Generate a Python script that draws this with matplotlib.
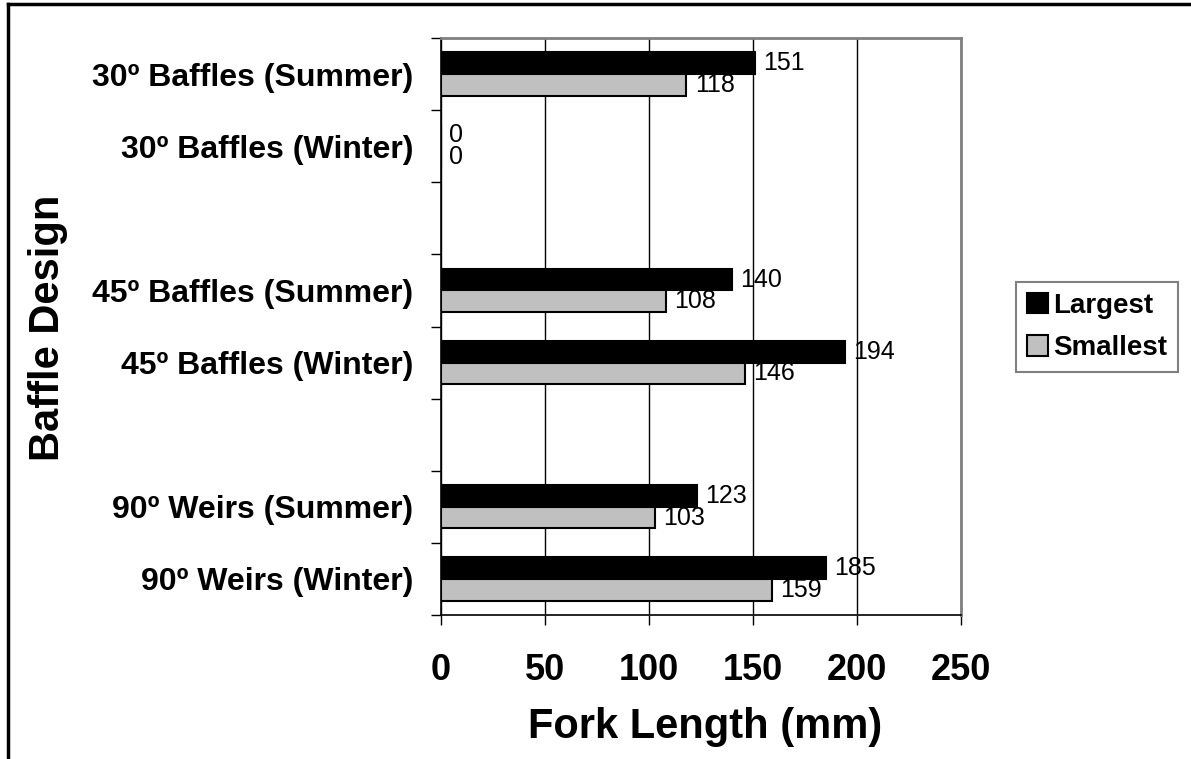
import numpy as np
import matplotlib.pyplot as plt
from matplotlib.lines import Line2D

# rows top to bottom, blank strings are the empty gap rows
categories = ['30º Baffles (Summer)', '30º Baffles (Winter)', '',
              '45º Baffles (Summer)', '45º Baffles (Winter)', '',
              '90º Weirs (Summer)', '90º Weirs (Winter)']
largest = [151, 0, np.nan, 140, 194, np.nan, 123, 185]
smallest = [118, 0, np.nan, 108, 146, np.nan, 103, 159]
xticks = [0, 50, 100, 150, 200, 250]

plt.rcParams['font.family'] = ['Liberation Sans', 'DejaVu Sans']

fig = plt.figure(figsize=(11.91, 7.59), dpi=100)
ax = fig.add_axes([441 / 1191, 1 - 615 / 759, 520 / 1191, 577 / 759])

pos = np.arange(len(categories))
h = 0.3
ok = ~np.isnan(np.array(largest, dtype=float))
ax.barh(pos[ok] - h / 2, np.array(largest)[ok], height=h, color='black',
        edgecolor='black', linewidth=1.5, label='Largest', zorder=3)
ax.barh(pos[ok] + h / 2, np.array(smallest)[ok], height=h, color='#c0c0c0',
        edgecolor='black', linewidth=1.5, label='Smallest', zorder=3)

# value labels at the bar ends
for p, a, b in zip(pos, largest, smallest):
    if np.isnan(a):
        continue
    ax.annotate(f'{a:g}', (a, p - h / 2), xytext=(6, 0), textcoords='offset points',
                va='center', ha='left', fontsize=18)
    ax.annotate(f'{b:g}', (b, p + h / 2), xytext=(6, 0), textcoords='offset points',
                va='center', ha='left', fontsize=18)

ax.set_xlim(0, 250)
ax.set_ylim(len(categories) - 0.5, -0.5)
ax.set_xticks(xticks)
ax.set_xticklabels([str(t) for t in xticks], fontsize=26, fontweight='bold')
ax.tick_params(axis='x', direction='out', length=7, width=1, pad=20)
ax.grid(axis='x', color='black', linewidth=1, zorder=0)

# boundary ticks, labels in the middle of each slot
ax.set_yticks(np.arange(len(categories) + 1) - 0.5)
ax.set_yticklabels([])
ax.set_yticks(pos, minor=True)
ax.set_yticklabels(categories, minor=True, fontsize=23, fontweight='bold')
ax.tick_params(axis='y', which='major', direction='out', length=7, width=1)
ax.tick_params(axis='y', which='minor', length=0, pad=20)

for s in ['left', 'bottom']:
    ax.spines[s].set_color('black')
    ax.spines[s].set_linewidth(1.2)
for s in ['top', 'right']:
    ax.spines[s].set_color('#808080')
    ax.spines[s].set_linewidth(2)

ax.set_xlabel('Fork Length (mm)', fontsize=30, fontweight='bold')
ax.xaxis.label.set_va('center')
ax.xaxis.set_label_coords(0.508, -0.194)
ax.set_ylabel('Baffle Design', fontsize=30, fontweight='bold')
ax.yaxis.label.set_va('center')
ax.yaxis.set_label_coords(-0.756, 0.497)

leg = fig.legend(loc='center', bbox_to_anchor=(1097 / 1191, 1 - 327 / 759),
                 prop={'size': 20, 'weight': 'bold'}, fancybox=False,
                 edgecolor='#606060', handlelength=0.75, handleheight=0.75,
                 handletextpad=0.2, borderpad=0.4, labelspacing=0.6,
                 borderaxespad=0)
leg.get_frame().set_linewidth(1.5)

# outer frame of the picture
fig.add_artist(Line2D([8 / 1191, 8 / 1191], [0, 1 - 4 / 759], color='black',
                      linewidth=2.5, transform=fig.transFigure))
fig.add_artist(Line2D([8 / 1191, 1], [1 - 4 / 759, 1 - 4 / 759], color='black',
                      linewidth=2.5, transform=fig.transFigure))

fig.savefig('out.png', dpi=100)
